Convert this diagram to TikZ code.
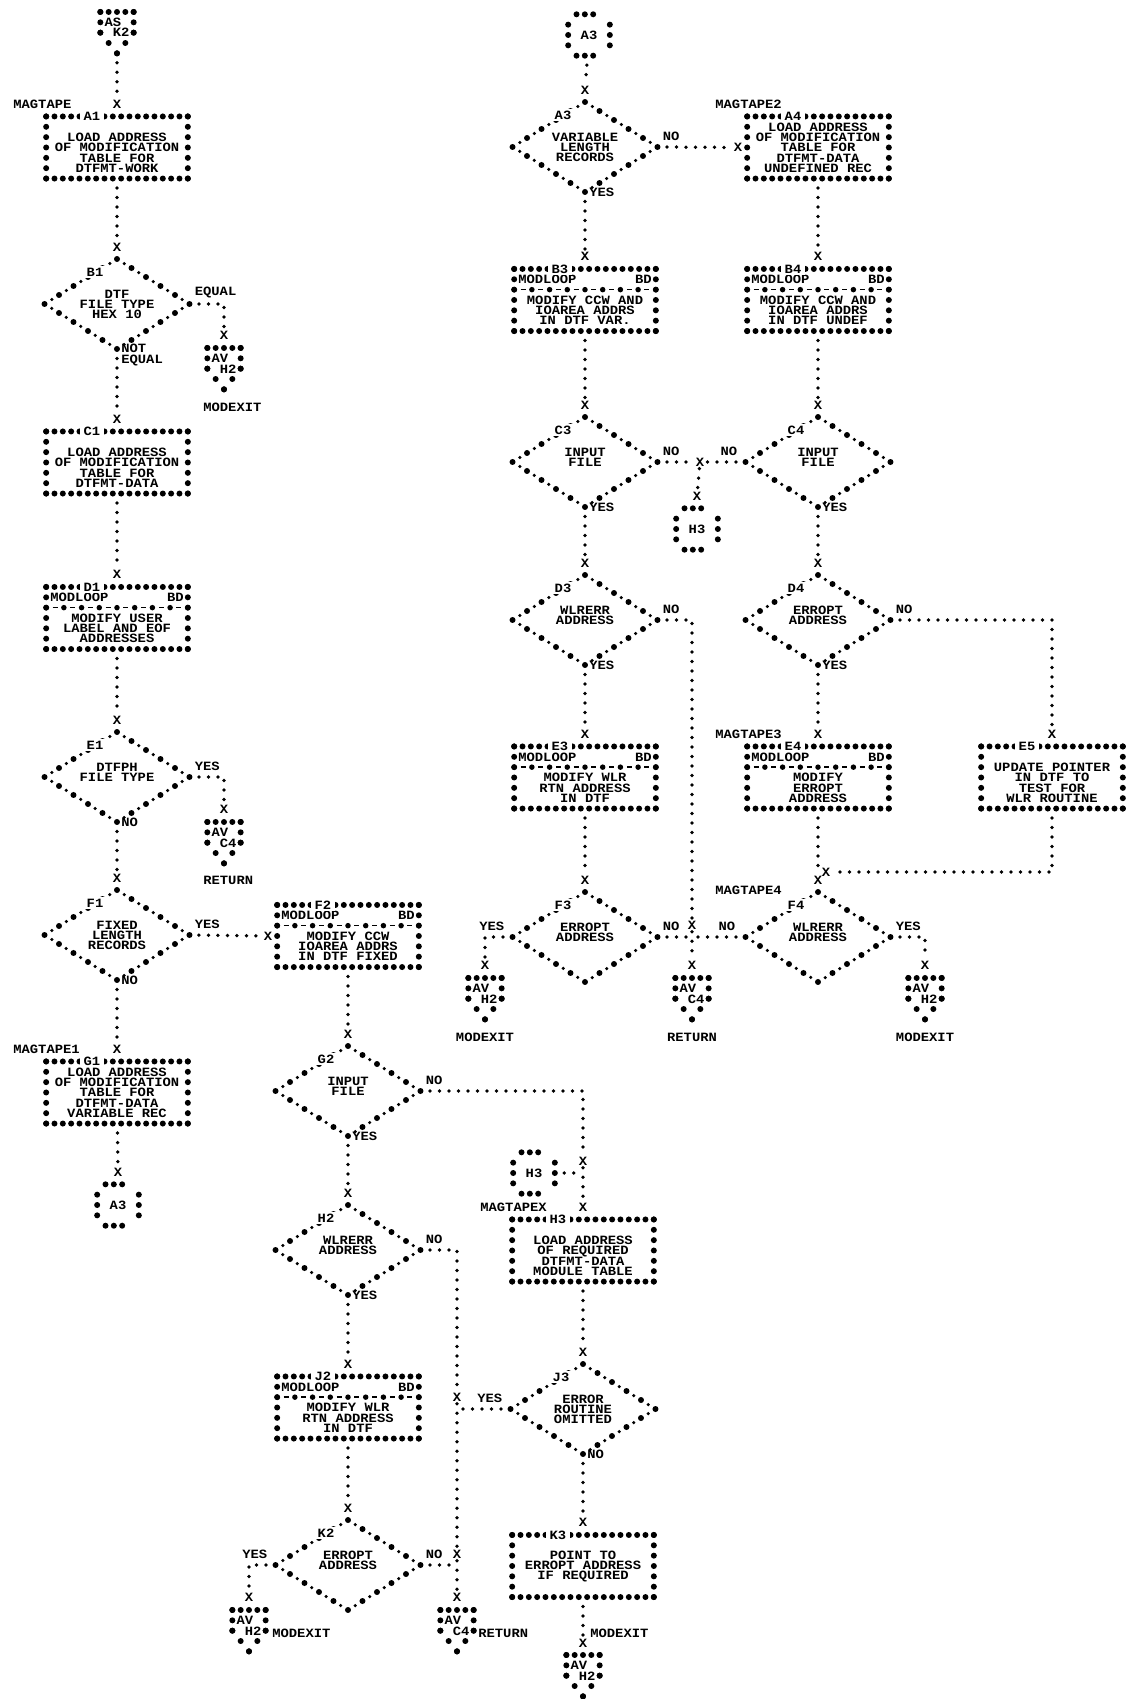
\documentclass[tikz,border=0pt]{standalone}
\usepackage{fontspec}
\usepackage{xcolor}
\usepackage{tikz}
\usetikzlibrary{positioning,shapes.geometric}
\newfontfamily\chainfont{Liberation Mono}[FakeStretch=1.093]
\newcommand{\chain}{\chainfont\bfseries\fontsize{7.2pt}{5.868pt}\selectfont}
\newcommand{\rowstrut}{\vrule width 0pt height 5.41pt depth 0.458pt}
\newcommand{\rows}[1]{{\let\\\cr\lineskiplimit=-10pt\lineskip=0pt%
  \vbox{\halign{\hfil\rowstrut##\hfil\cr#1\crcr}}}}
\newcommand{\hdr}{\hbox to 2.667cm{MODLOOP\hfil BD}}
\tikzset{
  asth/.style={draw, line width=0.12cm, line cap=round, dash pattern=on 0pt off 0.16665cm},
  astv/.style={draw, line width=0.12cm, line cap=round, dash pattern=on 0pt off 0.2069cm},
  astd/.style={draw, line width=0.12cm, line cap=round, dash pattern=on 0pt off 0.2655cm},
  sepdot/.style={draw, line width=0.11cm, line cap=round, dash pattern=on 0pt off 0.3542cm},
  sepdash/.style={draw, line width=0.03cm, dash pattern=on 0.1cm off 0.2542cm, dash phase=0.2271cm},
  box/.style={rectangle, minimum width=2.834cm, minimum height=1.242cm,
    inner sep=0pt, outer sep=0pt, font=\chain,
    append after command={
      (\tikzlastnode.north west) edge[asth] (\tikzlastnode.north east)
      (\tikzlastnode.south west) edge[asth] (\tikzlastnode.south east)
      (\tikzlastnode.north west) edge[astv] (\tikzlastnode.south west)
      (\tikzlastnode.north east) edge[astv] (\tikzlastnode.south east)}},
  loopbox/.style={box,
    append after command={
      ([yshift=-0.414cm]\tikzlastnode.north west) edge[sepdot] ([yshift=-0.414cm]\tikzlastnode.north east)
      ([yshift=-0.414cm]\tikzlastnode.north west) edge[sepdash] ([yshift=-0.414cm]\tikzlastnode.north east)}},
  dec/.style={diamond, aspect=1.6, minimum width=2.9cm, minimum height=1.8cm,
    inner sep=0pt, outer sep=0pt, font=\chain,
    draw, line width=0.12cm, line cap=round, dash pattern=on 0pt off 0.3413cm,
    postaction={draw, line width=0.07cm, line cap=round,
      dash pattern=on 0pt off 0.3413cm, dash phase=0.17065cm}},
  offp/.style={rectangle, minimum width=0.6667cm, minimum height=0.621cm,
    inner sep=0pt, outer sep=0pt, font=\chain,
    append after command={
      (\tikzlastnode.north west) edge[asth] (\tikzlastnode.north east)
      (\tikzlastnode.north west) edge[astv] ([yshift=-0.414cm]\tikzlastnode.north west)
      (\tikzlastnode.north east) edge[astv] ([yshift=-0.414cm]\tikzlastnode.north east)
      ([yshift=-0.414cm]\tikzlastnode.north west) edge[astd] ([yshift=-0.207cm]\tikzlastnode.south)
      ([yshift=-0.414cm]\tikzlastnode.north east) edge[astd] ([yshift=-0.207cm]\tikzlastnode.south)}},
  onp/.style={rectangle, minimum width=0.8333cm, minimum height=0.828cm,
    inner sep=0pt, outer sep=0pt, font=\chain,
    append after command={
      ([xshift=0.1667cm]\tikzlastnode.north west) edge[asth] ([xshift=-0.1667cm]\tikzlastnode.north east)
      ([xshift=0.1667cm]\tikzlastnode.south west) edge[asth] ([xshift=-0.1667cm]\tikzlastnode.south east)
      ([yshift=-0.207cm]\tikzlastnode.north west) edge[astv] ([yshift=0.207cm]\tikzlastnode.south west)
      ([yshift=-0.207cm]\tikzlastnode.north east) edge[astv] ([yshift=0.207cm]\tikzlastnode.south east)}},
  idtag/.style={font=\chain, fill=white, inner xsep=0.07cm, inner ysep=0.03cm},
  lbl/.style={font=\chain, inner sep=0pt},
  xmk/.style={font=\chain, inner sep=0pt, outer sep=0.05cm},
  flow/.style={draw, line width=0.075cm, line cap=round, dash pattern=on 0pt off 0.19cm,
    shorten <=0.19cm},
  link/.style={flow, shorten <=0pt},
}
\begin{document}
\begin{tikzpicture}[x=0.02cm, y=-0.02cm]
  \path[use as bounding box, fill=white] (0,0) rectangle (1129,1699);
  % left column
  \node[offp] (ask2) at (117,27.5) {\rows{AS\phantom{X}\\\phantom{X}K2}};
  \node[box] (a1) at (117,147.5) {\rows{\\LOAD ADDRESS\\OF MODIFICATION\\TABLE FOR\\DTFMT-WORK}};
  \node[dec] (b1) at (117,304) {\rows{DTF\\FILE TYPE\\HEX 10}};
  \node[offp] (avh2a) at (224,363.5) {\rows{AV\phantom{X}\\\phantom{X}H2}};
  \node[box] (c1) at (117,462.5) {\rows{\\LOAD ADDRESS\\OF MODIFICATION\\TABLE FOR\\DTFMT-DATA}};
  \node[loopbox] (d1) at (117,618) {\rows{\hdr\\\\MODIFY USER\\LABEL AND EOF\\ADDRESSES}};
  \node[dec] (e1) at (117,777) {\rows{DTFPH\\FILE TYPE\\{}}};
  \node[offp] (avc4a) at (224,837.5) {\rows{AV\phantom{X}\\\phantom{X}C4}};
  \node[dec] (f1) at (117,935) {\rows{FIXED\\LENGTH\\RECORDS}};
  \node[loopbox] (f2) at (348,936) {\rows{\hdr\\\\MODIFY CCW\\IOAREA ADDRS\\IN DTF FIXED}};
  \node[box] (g1) at (117,1092.5) {\rows{LOAD ADDRESS\\OF MODIFICATION\\TABLE FOR\\DTFMT-DATA\\VARIABLE REC}};
  \node[onp] (a3b) at (118,1205) {A3};
  \node[dec] (g2) at (348,1091) {\rows{INPUT\\FILE\\{}}};
  \node[dec] (h2) at (348,1250) {\rows{WLRERR\\ADDRESS\\{}}};
  \node[loopbox] (j2) at (348,1407.5) {\rows{\hdr\\\\MODIFY WLR\\RTN ADDRESS\\IN DTF}};
  \node[dec] (k2) at (348,1565) {\rows{ERROPT\\ADDRESS\\{}}};
  \node[offp] (avh2b) at (249,1625.5) {\rows{AV\phantom{X}\\\phantom{X}H2}};
  \node[offp] (avc4b) at (457,1625.5) {\rows{AV\phantom{X}\\\phantom{X}C4}};
  % middle column
  \node[onp] (h3c) at (534,1173) {H3};
  \node[box] (h3) at (583,1250.5) {\rows{\\LOAD ADDRESS\\OF REQUIRED\\DTFMT-DATA\\MODULE TABLE}};
  \node[dec] (j3) at (583,1409) {\rows{ERROR\\ROUTINE\\OMITTED}};
  \node[box] (k3) at (583,1566) {\rows{POINT TO\\ERROPT ADDRESS\\IF REQUIRED}};
  \node[offp] (avh2c) at (583,1670.5) {\rows{AV\phantom{X}\\\phantom{X}H2}};
  % right columns
  \node[onp] (a3t) at (589,35) {A3};
  \node[dec] (a3) at (585,147) {\rows{VARIABLE\\LENGTH\\RECORDS}};
  \node[box] (a4) at (818,147.5) {\rows{LOAD ADDRESS\\OF MODIFICATION\\TABLE FOR\\DTFMT-DATA\\UNDEFINED REC}};
  \node[loopbox] (b3) at (585,300) {\rows{\hdr\\\\MODIFY CCW AND\\IOAREA ADDRS\\IN DTF VAR.}};
  \node[loopbox] (b4) at (818,300) {\rows{\hdr\\\\MODIFY CCW AND\\IOAREA ADDRS\\IN DTF UNDEF}};
  \node[dec] (c3) at (585,462) {\rows{INPUT\\FILE\\{}}};
  \node[dec] (c4) at (818,462) {\rows{INPUT\\FILE\\{}}};
  \node[onp] (h3t) at (697,529) {H3};
  \node[dec] (d3) at (585,620) {\rows{WLRERR\\ADDRESS\\{}}};
  \node[dec] (d4) at (818,620) {\rows{ERROPT\\ADDRESS\\{}}};
  \node[loopbox] (e3) at (585,777.5) {\rows{\hdr\\\\MODIFY WLR\\RTN ADDRESS\\IN DTF}};
  \node[loopbox] (e4) at (818,777.5) {\rows{\hdr\\\\MODIFY\\ERROPT\\ADDRESS}};
  \node[box] (e5) at (1052,777.5) {\rows{\\UPDATE POINTER\\IN DTF TO\\TEST FOR\\WLR ROUTINE}};
  \node[dec] (f3) at (585,937) {\rows{ERROPT\\ADDRESS\\{}}};
  \node[dec] (f4) at (818,937) {\rows{WLRERR\\ADDRESS\\{}}};
  \node[offp] (avh2r) at (485,993.5) {\rows{AV\phantom{X}\\\phantom{X}H2}};
  \node[offp] (avc4r) at (692,993.5) {\rows{AV\phantom{X}\\\phantom{X}C4}};
  \node[offp] (avh2s) at (925,993.5) {\rows{AV\phantom{X}\\\phantom{X}H2}};

  % block ids
  \node[idtag] (a1id) at ([xshift=0.9167cm]a1.north west) {A1};
  \node[idtag] (c1id) at ([xshift=0.9167cm]c1.north west) {C1};
  \node[idtag] (d1id) at ([xshift=0.9167cm]d1.north west) {D1};
  \node[idtag] (f2id) at ([xshift=0.9167cm]f2.north west) {F2};
  \node[idtag] (g1id) at ([xshift=0.9167cm]g1.north west) {G1};
  \node[idtag] (h3id) at ([xshift=0.9167cm]h3.north west) {H3};
  \node[idtag] (j2id) at ([xshift=0.9167cm]j2.north west) {J2};
  \node[idtag] (k3id) at ([xshift=0.9167cm]k3.north west) {K3};
  \node[idtag] (a4id) at ([xshift=0.9167cm]a4.north west) {A4};
  \node[idtag] (b3id) at ([xshift=0.9167cm]b3.north west) {B3};
  \node[idtag] (b4id) at ([xshift=0.9167cm]b4.north west) {B4};
  \node[idtag] (e3id) at ([xshift=0.9167cm]e3.north west) {E3};
  \node[idtag] (e4id) at ([xshift=0.9167cm]e4.north west) {E4};
  \node[idtag] (e5id) at ([xshift=0.9167cm]e5.north west) {E5};
  \node[idtag] (b1id) at ([shift={(-22,-32)}]b1.center) {B1};
  \node[idtag] (e1id) at ([shift={(-22,-32)}]e1.center) {E1};
  \node[idtag] (f1id) at ([shift={(-22,-32)}]f1.center) {F1};
  \node[idtag] (g2id) at ([shift={(-22,-32)}]g2.center) {G2};
  \node[idtag] (h2id) at ([shift={(-22,-32)}]h2.center) {H2};
  \node[idtag] (j3id) at ([shift={(-22,-32)}]j3.center) {J3};
  \node[idtag] (k2id) at ([shift={(-22,-32)}]k2.center) {K2};
  \node[idtag] (a3id) at ([shift={(-22,-32)}]a3.center) {A3};
  \node[idtag] (c3id) at ([shift={(-22,-32)}]c3.center) {C3};
  \node[idtag] (c4id) at ([shift={(-22,-32)}]c4.center) {C4};
  \node[idtag] (d3id) at ([shift={(-22,-32)}]d3.center) {D3};
  \node[idtag] (d4id) at ([shift={(-22,-32)}]d4.center) {D4};
  \node[idtag] (f3id) at ([shift={(-22,-32)}]f3.center) {F3};
  \node[idtag] (f4id) at ([shift={(-22,-32)}]f4.center) {F4};

  % entry marks
  \node[xmk, above=0.11cm of a1] (a1in) {X};
  \node[xmk, above=0.11cm of b1] (b1in) {X};
  \node[xmk, above=0.11cm of avh2a] (avh2ain) {X};
  \node[xmk, above=0.11cm of c1] (c1in) {X};
  \node[xmk, above=0.11cm of d1] (d1in) {X};
  \node[xmk, above=0.11cm of e1] (e1in) {X};
  \node[xmk, above=0.11cm of avc4a] (avc4ain) {X};
  \node[xmk, above=0.11cm of f1] (f1in) {X};
  \node[xmk, left=0.05cm of f2] (f2in) {X};
  \node[xmk, above=0.11cm of g1] (g1in) {X};
  \node[xmk, above=0.11cm of a3b] (a3bin) {X};
  \node[xmk, above=0.11cm of g2] (g2in) {X};
  \node[xmk, above=0.11cm of h3] (h3in) {X};
  \node[xmk, above=0.11cm of h2] (h2in) {X};
  \node[xmk, above=0.11cm of j2] (j2in) {X};
  \node[xmk, above=0.11cm of k2] (k2in) {X};
  \node[xmk, above=0.11cm of avh2b] (avh2bin) {X};
  \node[xmk, above=0.11cm of avc4b] (avc4bin) {X};
  \node[xmk, above=0.11cm of j3] (j3in) {X};
  \node[xmk, above=0.11cm of k3] (k3in) {X};
  \node[xmk, above=0.11cm of avh2c] (avh2cin) {X};
  \node[xmk, above=0.11cm of a3] (a3in) {X};
  \node[xmk, left=0.05cm of a4] (a4in) {X};
  \node[xmk, above=0.11cm of b3] (b3in) {X};
  \node[xmk, above=0.11cm of b4] (b4in) {X};
  \node[xmk, above=0.11cm of c3] (c3in) {X};
  \node[xmk, above=0.11cm of c4] (c4in) {X};
  \node[xmk, above=0.11cm of h3t] (h3tin) {X};
  \node[xmk, above=0.11cm of d3] (d3in) {X};
  \node[xmk, above=0.11cm of d4] (d4in) {X};
  \node[xmk, above=0.11cm of e3] (e3in) {X};
  \node[xmk, above=0.11cm of e4] (e4in) {X};
  \node[xmk, above=0.11cm of e5] (e5in) {X};
  \node[xmk, above=0.11cm of f3] (f3in) {X};
  \node[xmk, above=0.11cm of f4] (f4in) {X};
  \node[xmk, above=0.11cm of avh2r] (avh2rin) {X};
  \node[xmk, above=0.11cm of avc4r] (avc4rin) {X};
  \node[xmk, above=0.11cm of avh2s] (avh2sin) {X};
  % junctions
  \node[xmk] (xm) at (700,462) {X};
  \node[xmk] (xj1) at (583,1161) {X};
  \node[xmk] (xj3) at (457,1397) {X};
  \node[xmk] (xk2) at (457,1554) {X};
  \node[xmk] (xf) at (692,925) {X};
  \node[xmk] (e5out) at (826,872) {X};
  \coordinate (j1) at (583,1173);
  \coordinate (j3j) at (457,1409);
  \coordinate (k2j) at (457,1565);
  \coordinate (fj) at (692,937);

  % labels
  \node[lbl, anchor=west] (magtape) at (13,104) {MAGTAPE};
  \node[lbl, anchor=west] (b1eq) at ([shift={(5,-11)}]b1.east) {EQUAL};
  \node[lbl, anchor=west, align=left] (b1ne) at ([shift={(4,6)}]b1.south) {NOT\\EQUAL};
  \node[lbl, anchor=west] (modexit1) at (203,407) {MODEXIT};
  \node[lbl, anchor=west] (e1yes) at ([shift={(5,-11)}]e1.east) {YES};
  \node[lbl, anchor=west] (e1no) at ([xshift=0.08cm]e1.south) {NO};
  \node[lbl, anchor=west] (return1) at (203,880) {RETURN};
  \node[lbl, anchor=west] (f1yes) at ([shift={(5,-11)}]f1.east) {YES};
  \node[lbl, anchor=west] (f1no) at ([xshift=0.08cm]f1.south) {NO};
  \node[lbl, anchor=west] (magtape1) at (13,1049) {MAGTAPE1};
  \node[lbl, anchor=west] (g2no) at ([shift={(5,-11)}]g2.east) {NO};
  \node[lbl, anchor=west] (g2yes) at ([xshift=0.08cm]g2.south) {YES};
  \node[lbl, anchor=west] (magtapex) at (480,1207) {MAGTAPEX};
  \node[lbl, anchor=west] (h2no) at ([shift={(5,-11)}]h2.east) {NO};
  \node[lbl, anchor=west] (h2yes) at ([xshift=0.08cm]h2.south) {YES};
  \node[lbl, anchor=east] (j3yes) at ([shift={(-8,-11)}]j3.west) {YES};
  \node[lbl, anchor=west] (j3no) at ([xshift=0.08cm]j3.south) {NO};
  \node[lbl, anchor=east] (k2yes) at ([shift={(-8,-11)}]k2.west) {YES};
  \node[lbl, anchor=west] (k2no) at ([shift={(5,-11)}]k2.east) {NO};
  \node[lbl, anchor=west] (modexit2) at (272,1633) {MODEXIT};
  \node[lbl, anchor=west] (return2) at (478,1633) {RETURN};
  \node[lbl, anchor=west] (modexit3) at (590,1633) {MODEXIT};
  \node[lbl, anchor=west] (a3no) at ([shift={(5,-11)}]a3.east) {NO};
  \node[lbl, anchor=west] (a3yes) at ([xshift=0.08cm]a3.south) {YES};
  \node[lbl, anchor=west] (magtape2) at (715,104) {MAGTAPE2};
  \node[lbl, anchor=west] (c3no) at ([shift={(5,-11)}]c3.east) {NO};
  \node[lbl, anchor=west] (c3yes) at ([xshift=0.08cm]c3.south) {YES};
  \node[lbl, anchor=east] (c4no) at ([shift={(-8,-11)}]c4.west) {NO};
  \node[lbl, anchor=west] (c4yes) at ([xshift=0.08cm]c4.south) {YES};
  \node[lbl, anchor=west] (d3no) at ([shift={(5,-11)}]d3.east) {NO};
  \node[lbl, anchor=west] (d3yes) at ([xshift=0.08cm]d3.south) {YES};
  \node[lbl, anchor=west] (d4no) at ([shift={(5,-11)}]d4.east) {NO};
  \node[lbl, anchor=west] (d4yes) at ([xshift=0.08cm]d4.south) {YES};
  \node[lbl, anchor=west] (magtape3) at (715,734) {MAGTAPE3};
  \node[lbl, anchor=west] (magtape4) at (715,890) {MAGTAPE4};
  \node[lbl, anchor=east] (f3yes) at ([shift={(-8,-11)}]f3.west) {YES};
  \node[lbl, anchor=west] (f3no) at ([shift={(5,-11)}]f3.east) {NO};
  \node[lbl, anchor=east] (f4no) at ([shift={(-10,-11)}]f4.west) {NO};
  \node[lbl, anchor=west] (f4yes) at ([shift={(5,-11)}]f4.east) {YES};
  \node[lbl] (modexit4) at (485,1037) {MODEXIT};
  \node[lbl] (return3) at (692,1037) {RETURN};
  \node[lbl] (modexit5) at (925,1037) {MODEXIT};

  % connectors, left half
  \draw[flow] ([yshift=-0.207cm]ask2.south) -- (a1in);
  \draw[flow] (a1) -- (b1in);
  \draw[flow] (b1) -- (c1in);
  \draw[flow] (b1.east) -| (avh2ain);
  \draw[flow] (c1) -- (d1in);
  \draw[flow] (d1) -- (e1in);
  \draw[flow] (e1.east) -| (avc4ain);
  \draw[flow] (e1) -- (f1in);
  \draw[flow] (f1.east) -- (f2in);
  \draw[flow] (f1) -- (g1in);
  \draw[flow] (g1) -- (a3bin);
  \draw[flow] (f2) -- (g2in);
  \draw[flow] (g2.east) -| (xj1);
  \draw[link] (xj1) -- (h3in);
  \draw[flow] (h3c.east) -- (j1);
  \draw[flow] (g2) -- (h2in);
  \draw[flow] (h2.east) -| (xj3);
  \draw[link] (xj3) -- (xk2);
  \draw[flow] (j3.west) -- (j3j);
  \draw[flow] (h2) -- (j2in);
  \draw[flow] (j2) -- (k2in);
  \draw[flow] (k2.west) -| (avh2bin);
  \draw[flow] (k2.east) -- (k2j);
  \draw[link] (xk2) -- (avc4bin);
  \draw[flow] (h3) -- (j3in);
  \draw[flow] (j3) -- (k3in);
  \draw[flow] (k3) -- (avh2cin);
  % connectors, right half
  \draw[flow] (a3t) -- (a3in);
  \draw[flow] (a3.east) -- (a4in);
  \draw[flow] (a3) -- (b3in);
  \draw[flow] (a4) -- (b4in);
  \draw[flow] (b3) -- (c3in);
  \draw[flow] (b4) -- (c4in);
  \draw[flow] (c3.east) -- (xm);
  \draw[flow] (c4.west) -- (xm);
  \draw[link] (xm) -- (h3tin);
  \draw[flow] (c3) -- (d3in);
  \draw[flow] (c4) -- (d4in);
  \draw[flow] (d3.east) -| (xf);
  \draw[link] (xf) -- (avc4rin);
  \draw[flow] (d4.east) -| (e5in);
  \draw[flow] (d3) -- (e3in);
  \draw[flow] (d4) -- (e4in);
  \draw[flow] (e3) -- (f3in);
  \draw[flow] (e4) -- (f4in);
  \draw[flow] (e5) |- (e5out);
  \draw[flow] (f3.east) -- (fj);
  \draw[flow] (f4.west) -- (fj);
  \draw[flow] (f3.west) -| (avh2rin);
  \draw[flow] (f4.east) -| (avh2sin);
\end{tikzpicture}
\end{document}
